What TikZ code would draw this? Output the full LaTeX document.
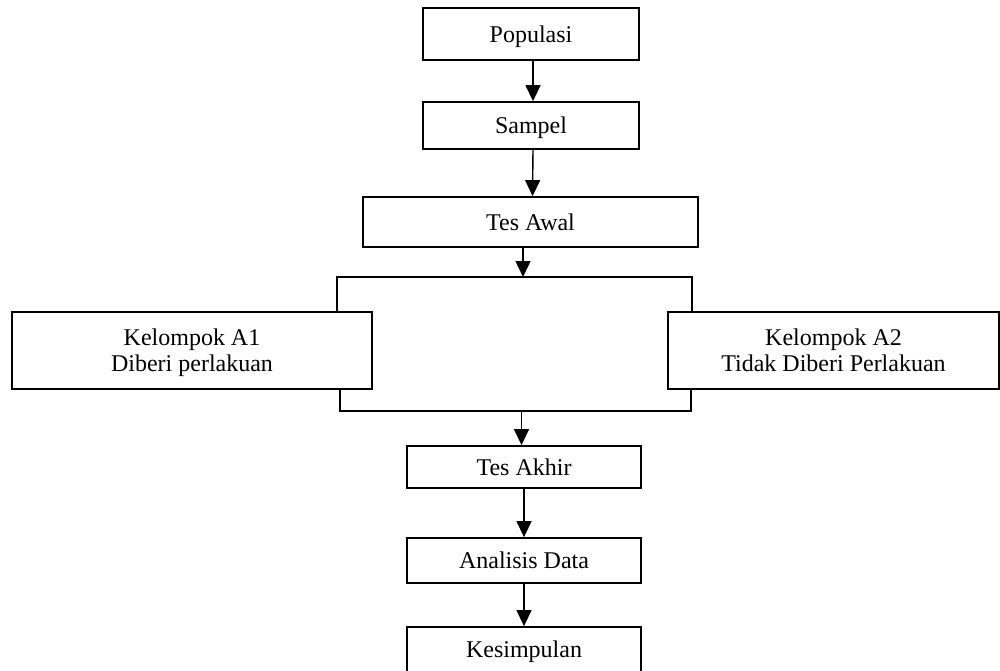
\documentclass[tikz,border=0pt]{standalone}
\usepackage{fontspec}
\setmainfont{Liberation Serif}
\usetikzlibrary{arrows.meta}

\begin{document}
\begin{tikzpicture}[x=0.5pt, y=-0.5pt,
    kotak/.style={draw, line width=0.9pt, inner sep=0pt, text depth=0pt, align=center, font=\fontsize{12}{13}\selectfont},
    panah/.style={-{Triangle[length=8pt,width=7.5pt]}, line width=0.7pt},
    garis/.style={line width=0.7pt}]
    \useasboundingbox (0,0) rectangle (1000,670);
    \clip (0,0) rectangle (1000,670);

    \node[kotak, minimum width=108pt, minimum height=26pt] (populasi) at (531,34) {Populasi};
    \node[kotak, minimum width=108pt, minimum height=23.5pt] (sampel) at (531,125.5) {Sampel};
    \node[kotak, minimum width=167.5pt, minimum height=25pt] (awal) at (530.5,222) {Tes Awal};
    \node[kotak, minimum width=180pt, minimum height=38.5pt] (A1) at (192,350.5) {Kelompok A1\\Diberi perlakuan};
    \node[kotak, minimum width=165.5pt, minimum height=38.5pt] (A2) at (833.5,350.5) {Kelompok A2\\Tidak Diberi Perlakuan};
    \node[kotak, minimum width=117pt, minimum height=21pt] (akhir) at (524,467) {Tes Akhir};
    \node[kotak, minimum width=117pt, minimum height=22.5pt] (analisis) at (524,560.5) {Analisis Data};
    \node[kotak, minimum width=117pt, minimum height=22.5pt] (kesimpulan) at (524,649.5) {Kesimpulan};

    \coordinate (atasL) at (337,277);
    \coordinate (atasR) at (692,277);
    \coordinate (bawahL) at (340,411);
    \coordinate (bawahR) at (691,411);
    \coordinate (atas) at (523,277);
    \coordinate (bawah) at (521.5,411);

    \draw[garis] (atasL |- A1.north) -- (atasL) -- (atasR) -- (atasR |- A2.north);
    \draw[garis] (bawahL |- A1.south) -- (bawahL) -- (bawahR) -- (bawahR |- A2.south);

    \draw[panah] ([xshift=1pt]populasi.south) -- ([xshift=1pt]sampel.north);
    \draw[panah] ([xshift=1pt]sampel.south) -- ([xshift=1pt]awal.north);
    \draw[panah] (awal.south -| atas) -- (atas);
    \draw[panah] (bawah) -- (bawah |- akhir.north);
    \draw[panah] (akhir.south) -- (analisis.north);
    \draw[panah] (analisis.south) -- (kesimpulan.north);
\end{tikzpicture}
\end{document}
